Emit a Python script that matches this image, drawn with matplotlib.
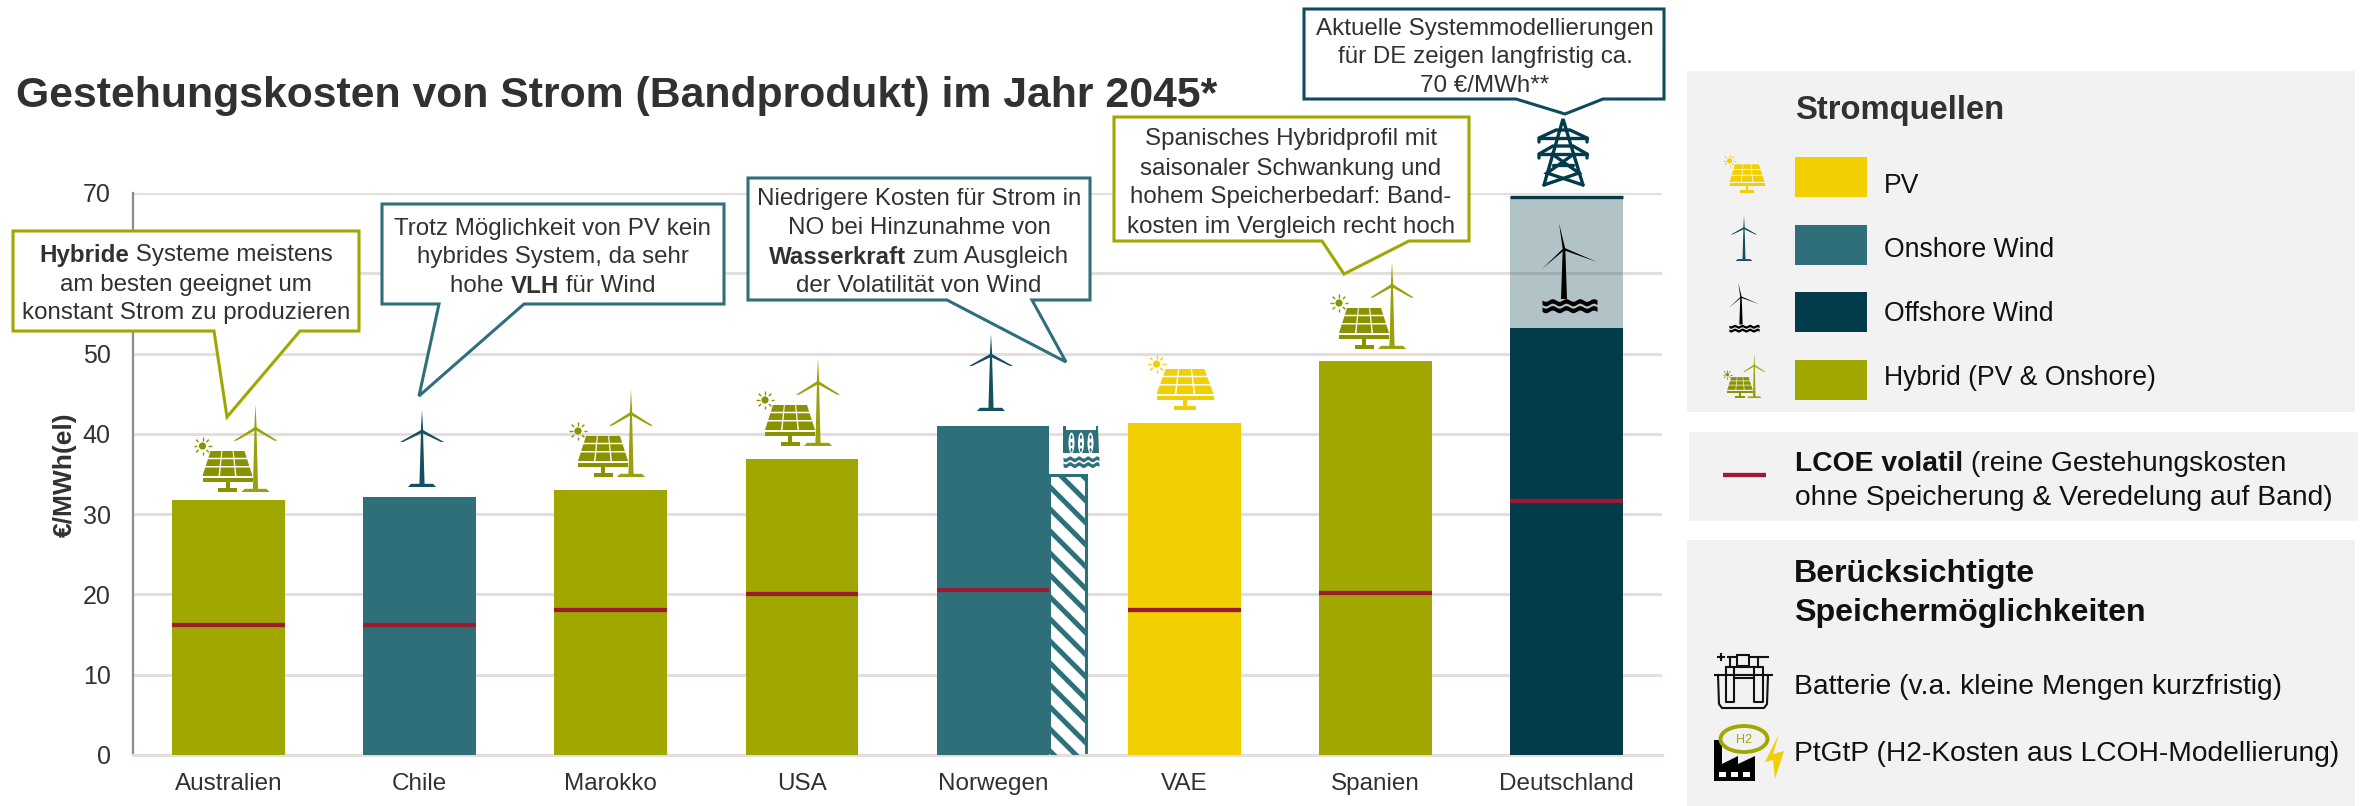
import numpy as np
import matplotlib
matplotlib.use("Agg")
import matplotlib.pyplot as plt
from matplotlib.patches import Polygon, Rectangle, Circle, Ellipse

plt.rcParams['font.family'] = ['Liberation Sans', 'DejaVu Sans']

# ---- data
countries = ["Australien", "Chile", "Marokko", "USA", "Norwegen", "VAE", "Spanien", "Deutschland"]
band_costs = [31.8, 32.1, 33.0, 36.9, 41.0, 41.3, 49.1, 53.2]
lcoe_volatile = [16.2, 16.2, 18.0, 20.0, 20.6, 18.0, 20.2, 31.6]
sources = ["Hybrid", "Onshore", "Hybrid", "Hybrid", "Onshore", "PV", "Hybrid", "Offshore"]
norway_hydro = 34.9
germany_system = 69.5
yticks = [0, 10, 20, 30, 40, 50, 60, 70]
ytick_labels = ["0", "10", "20", "30", "40", "50", "", "70"]  # 60 lies behind a callout

OLIVE, TEAL, DARK, YELLOW = '#A0A800', '#2F6F7A', '#023B4A', '#F2CF00'
RED, PANEL, TXT, GRID = '#9B1B30', '#F2F2F2', '#333030', '#E4DFDC'
source_colors = {"Hybrid": OLIVE, "Onshore": TEAL, "PV": YELLOW, "Offshore": DARK}

W, H = 2362, 806
fig = plt.figure(figsize=(W/100, H/100), dpi=100, facecolor='white')
L, R, T, B = 133, 1662, 193, 755
ax = fig.add_axes([L/W, 1-B/H, (R-L)/W, (B-T)/H])
ov = fig.add_axes([0, 0, 1, 1], zorder=5)
ov.set_xlim(0, W); ov.set_ylim(H, 0); ov.axis('off'); ov.patch.set_alpha(0)

# ---- main chart
x = np.arange(len(countries))
bw = 0.59
ax.set_axisbelow(True)
ax.bar(x, band_costs, width=bw, color=[source_colors[s] for s in sources], zorder=3)
ax.bar(x[-1], germany_system - band_costs[-1], bottom=band_costs[-1], width=bw,
       color=DARK, alpha=0.30, zorder=3)
ax.hlines(germany_system, x[-1]-bw/2, x[-1]+bw/2, color=DARK, lw=2.4, zorder=4)
hyd = ax.bar(x[4]+0.39, norway_hydro, width=0.195, facecolor='white', edgecolor=TEAL, lw=2.2, zorder=2.5)[0]
ax.hlines(lcoe_volatile, x-bw/2, x+bw/2, color=RED, lw=3.1, zorder=5)

ax.set_xlim(-0.5, 7.5); ax.set_ylim(0, 70)
ax.set_yticks(yticks); ax.set_yticklabels(ytick_labels)
ax.set_xticks(x); ax.set_xticklabels(countries)
ax.tick_params(axis='y', length=0, pad=16, labelsize=18, labelcolor=TXT)
ax.tick_params(axis='x', length=0, pad=13, labelsize=17.5, labelcolor=TXT)
ax.grid(axis='y', color=GRID, lw=2.2); ax.grid(axis='x', visible=False)
for s in ('top', 'right'):
    ax.spines[s].set_visible(False)
ax.spines['left'].set_color('#8C8C8C'); ax.spines['left'].set_linewidth(1.6)
ax.spines['bottom'].set_color(GRID); ax.spines['bottom'].set_linewidth(2.2)
ax.set_ylabel("€/MWh(el)", fontsize=19, fontweight='bold', color=TXT)
ax.yaxis.set_label_coords((77-L)/(R-L), (B-475)/(B-T))

# hatch stripes of the hydro bar, clipped to the bar
for k in range(-3, 30):
    y0 = T + 240 + k*22
    l, = ov.plot([1040, 1095], [y0, y0+55], color=TEAL, lw=3.6, solid_capstyle='butt', zorder=2)
    l.set_clip_path(hyd)

# ---- text helpers
fig.canvas.draw()
rend = fig.canvas.get_renderer()
def twidth(s, size, weight):
    a = ov.text(0, 0, "|"+s+"|", fontsize=size, fontweight=weight)
    b = ov.text(0, 0, "||", fontsize=size, fontweight=weight)
    w = a.get_window_extent(rend).width - b.get_window_extent(rend).width
    a.remove(); b.remove()
    return w
def line(xc, y, parts, size=17.4, color=TXT, ha='center'):
    """parts: list of (text, weight)"""
    ws = [twidth(p, size, wt) for p, wt in parts]
    cx = xc - sum(ws)/2 if ha == 'center' else xc
    for (p, wt), w in zip(parts, ws):
        ov.text(cx, y, p, fontsize=size, fontweight=wt, color=color,
                ha='left', va='center_baseline', zorder=20)
        cx += w
N, Bd = 'normal', 'bold'

def callout(box, base, tip, color):
    x0, y0, x1, y1 = box
    ov.add_patch(Polygon([(x0, y0), (x1, y0), (x1, y1), (base[1], y1), tip, (base[0], y1), (x0, y1)],
                         closed=True, fc='white', ec=color, lw=2.2, joinstyle='miter', zorder=10))

# ---- icons (pixel coordinates of the overlay)
def sun(cx, cy, s, c):
    ov.add_patch(Circle((cx, cy), 3.6*s, fc=c, ec='none', zorder=8))
    for a in np.arange(0, 2*np.pi, np.pi/4):
        ov.plot([cx+5.5*s*np.cos(a), cx+9*s*np.cos(a)], [cy+5.5*s*np.sin(a), cy+9*s*np.sin(a)],
                color=c, lw=1.0*max(s, .7), zorder=8, solid_capstyle='butt')

def panel(cx, by, sx, sy, c, sunc=None):
    top, bot = -41*sy, -16*sy
    tw, bw_ = 17.0*sx, 25.0*sx
    rows = [(0, .27), (.33, .6), (.66, 1)]
    cols = [(-1, -.36), (-.30, .30), (.36, 1)]
    for r0, r1 in rows:
        for c0, c1 in cols:
            h0 = tw+(bw_-tw)*r0; h1 = tw+(bw_-tw)*r1
            ov.add_patch(Polygon([(cx+c0*h0, by+top+(bot-top)*r0), (cx+c1*h0, by+top+(bot-top)*r0),
                                  (cx+c1*h1, by+top+(bot-top)*r1), (cx+c0*h1, by+top+(bot-top)*r1)],
                                 fc=c, ec='none', zorder=8))
    ov.add_patch(Rectangle((cx-bw_, by-14*sy), 2*bw_, 4.2*sy, fc=c, ec='none', zorder=8))
    ov.add_patch(Rectangle((cx-2*sx, by-10*sy), 4*sx, 7*sy, fc=c, ec='none', zorder=8))
    ov.add_patch(Rectangle((cx-9.5*sx, by-4*sy), 19*sx, 4*sy, fc=c, ec='none', zorder=8))
    sun(cx-25*sx, by-46*sy, min(sx, sy)*1.0, sunc or c)

def turbine(cx, by, s, c, tall=1.0):
    sy = s*tall
    hub = by-56*sy
    ov.add_patch(Polygon([(cx-2.6*s, by-2*s), (cx+2.6*s, by-2*s), (cx+1*s, hub), (cx-1*s, hub)], fc=c, ec='none', zorder=8))
    ov.add_patch(Polygon([(cx-14*s, by), (cx+14*s, by), (cx+11*s, by-3.2*s), (cx-11*s, by-3.2*s)], fc=c, ec='none', zorder=8))
    ov.add_patch(Polygon([(cx-1.2*s, hub), (cx, hub-21*sy), (cx+1.2*s, hub)], fc=c, ec='none', zorder=8))
    for d in (-1, 1):
        ov.add_patch(Polygon([(cx, hub-1.5*s), (cx+d*22*s, hub+11*sy), (cx+d*19*s, hub+11*sy), (cx, hub+2*s)],
                             fc=c, ec='none', zorder=8))

def hybrid(cx, by, s=1.0, c='#8B9200', tc='#9AA010'):
    panel(cx, by, s, s, c)
    turbine(cx+28*s, by, s, tc, tall=1.14)

def waves(x0, x1, y, h, c):
    xs = np.linspace(x0, x1, 60)
    for off in (0, 1):
        yy = y + off*h*1.15 + h*0.22*np.sin((xs-x0)/(x1-x0)*2*np.pi*4)
        ov.fill_between(xs, yy, yy+h*0.75, color=c, lw=0, zorder=8)

def offshore(hx, hy, s, c='black'):
    for tx, ty in ((-5, -26), (33, 13), (-22, 20)):
        ov.add_patch(Polygon([(hx-1.3*s, hy), (hx+tx*s, hy+ty*s), (hx+1.3*s, hy)] if ty < 0 else
                             [(hx, hy-1.3*s), (hx+tx*s, hy+ty*s), (hx, hy+1.3*s)], fc=c, ec='none', zorder=8))
    ov.add_patch(Polygon([(hx-1.3*s, hy), (hx+1.3*s, hy), (hx+3*s, hy+50*s), (hx-3*s, hy+50*s)], fc=c, ec='none', zorder=8))
    waves(hx-22*s, hx+33*s, hy+51*s, 6*s, c)

def pylon(c=DARK):
    kw = dict(color=c, lw=2.4, zorder=8, solid_capstyle='round', solid_joinstyle='miter')
    ov.plot([1544, 1563, 1583], [185, 119, 185], **kw)
    ov.plot([1539, 1539, 1556, 1570, 1587, 1587], [142, 138, 130, 130, 138, 142], **kw)
    ov.plot([1539, 1539, 1553, 1573, 1587, 1587], [158, 154, 146, 146, 154, 158], **kw)
    ov.plot([1540, 1587], [138, 138], **kw); ov.plot([1540, 1587], [154, 154], **kw)
    ov.plot([1553, 1573], [165, 165], **kw)
    ov.plot([1552, 1579, 1544], [154, 173, 185], **kw); ov.plot([1574, 1547, 1583], [154, 173, 185], **kw)

def hydro(c=TEAL):
    ov.add_patch(Polygon([(1063, 426), (1066, 426), (1066, 430), (1096, 430), (1096, 426), (1098, 426),
                          (1099, 453), (1063, 453)], fc=c, ec='none', zorder=8))
    for cx in (1071.5, 1081, 1090.5):
        ov.add_patch(Ellipse((cx, 443), 6, 21, fc='white', ec='none', zorder=9))
        for yy in (437, 444, 450):
            ov.add_patch(Ellipse((cx, yy), 2, 4, fc=c, ec='none', zorder=10))
    waves(1063, 1099, 457, 5, c)

# placed icons
hybrid(227.5, 492); hybrid(603, 477); hybrid(790, 446); hybrid(1364, 349)
turbine(422, 487, 1, '#14505F'); turbine(991, 411, 1, '#14505F')
panel(1185, 410, 1.14, 1.0, YELLOW)
offshore(1564, 249, 1.0); pylon(); hydro()

# ---- title
ov.text(16, 96, "Gestehungskosten von Strom (Bandprodukt) im Jahr 2045*", fontsize=30.8, fontweight='bold',
        color=TXT, ha='left', va='center')

# ---- callouts
callout((13, 231, 359, 331), (214, 300), (227, 417), OLIVE)
callout((382, 204, 724, 304), (439, 524), (419, 396), TEAL)
callout((748, 178, 1090, 300), (947, 1032), (1066, 362), TEAL)
callout((1114, 117, 1469, 241), (1322, 1409), (1344, 274), OLIVE)
callout((1304, 9, 1664, 99), (1516, 1603), (1565, 114), '#0F4B5C')

cx = 186
line(cx, 253, [("Hybride", Bd), (" Systeme meistens", N)])
line(cx, 282, [("am besten geeignet um", N)])
line(cx, 311, [("konstant Strom zu produzieren", N)])
cx = 553
line(cx, 226, [("Trotz Möglichkeit von PV kein", N)])
line(cx, 255, [("hybrides System, da sehr", N)])
line(cx, 284, [("hohe ", N), ("VLH", Bd), (" für Wind", N)])
cx = 919
line(cx, 197, [("Niedrigere Kosten für Strom in", N)])
line(cx, 226, [("NO bei Hinzunahme von", N)])
line(cx, 255, [("Wasserkraft", Bd), (" zum Ausgleich", N)])
line(cx, 283, [("der Volatilität von Wind", N)])
cx = 1291
line(cx, 137, [("Spanisches Hybridprofil mit", N)])
line(cx, 166, [("saisonaler Schwankung und", N)])
line(cx, 195, [("hohem Speicherbedarf: Band-", N)])
line(cx, 224, [("kosten im Vergleich recht hoch", N)])
cx = 1485
line(cx, 26, [("Aktuelle Systemmodellierungen", N)])
line(cx, 55, [("für DE zeigen langfristig ca.", N)])
line(cx, 83, [("70 €/MWh**", N)])

# ---- legend panels
for (x0, y0, x1, y1) in ((1687, 71, 2355, 412), (1689, 432, 2358, 521), (1687, 540, 2355, 806)):
    ov.add_patch(Rectangle((x0, y0), x1-x0, y1-y0, fc=PANEL, ec='none', zorder=1))

ov.text(1795, 110, "Stromquellen", fontsize=23.6, fontweight='bold', color=TXT, va='center', zorder=20)
legend_names = ["PV", "Onshore Wind", "Offshore Wind", "Hybrid (PV & Onshore)"]
legend_colors = [YELLOW, TEAL, DARK, OLIVE]
legend_tops = [157, 225, 292, 360]
legend_text_y = [183, 247, 311, 375]
for nm, col, yt, yy in zip(legend_names, legend_colors, legend_tops, legend_text_y):
    ov.add_patch(Rectangle((1795, yt), 72, 40, fc=col, ec='none', zorder=3))
    ov.text(1884, yy, nm, fontsize=19.2, color='#111111', va='center_baseline', zorder=20)

panel(1747, 193, 0.7, 0.7, YELLOW)
turbine(1744, 261, 0.59, '#14505F')
offshore(1741, 297, 0.55)
hybrid(1740, 398, 0.51)

ov.plot([1723, 1766], [475, 475], color=RED, lw=3.1, solid_capstyle='butt', zorder=5)
line(1795, 461, [("LCOE volatil", Bd), (" (reine Gestehungskosten", N)], size=20.3, color='#111111', ha='left')
line(1795, 495, [("ohne Speicherung & Veredelung auf Band)", N)], size=20.3, color='#111111', ha='left')

ov.text(1794, 574, "Berücksichtigte", fontsize=23.1, fontweight='bold', color='#111111', va='center', zorder=20)
ov.text(1794, 613, "Speichermöglichkeiten", fontsize=23.1, fontweight='bold', color='#111111', va='center', zorder=20)
ov.text(1794, 684, "Batterie (v.a. kleine Mengen kurzfristig)", fontsize=20.3, color='#111111', va='center_baseline', zorder=20)
ov.text(1794, 751, "PtGtP (H2-Kosten aus LCOH-Modellierung)", fontsize=20.3, color='#111111', va='center_baseline', zorder=20)

# battery icon
kw = dict(color='#111111', lw=1.5, zorder=8, solid_joinstyle='round')
ov.plot([1715, 1772], [675, 675], **kw)
ov.plot([1718, 1719, 1722, 1764, 1767, 1768], [675, 704, 708, 708, 704, 675], **kw)
ov.plot([1726, 1726, 1734, 1734, 1726], [667, 702, 702, 667, 667], **kw)
ov.plot([1754, 1754, 1763, 1763, 1754], [667, 702, 702, 667, 667], **kw)
ov.plot([1734, 1754], [678, 678], **kw)
ov.plot([1734, 1754], [667, 667], **kw)
ov.plot([1728, 1760], [657, 657], **kw)
ov.plot([1730, 1730], [657, 667], **kw); ov.plot([1758, 1758], [657, 667], **kw)
ov.add_patch(Rectangle((1737, 655), 12, 11, fc=PANEL, ec='#111111', lw=1.5, zorder=9))
ov.plot([1718, 1724], [657, 657], **kw); ov.plot([1721, 1721], [654, 660], **kw)
ov.plot([1762, 1768], [657, 657], **kw)

# PtGtP icon
ov.add_patch(Polygon([(1714, 781), (1714, 740), (1722, 740), (1722, 764), (1738, 756), (1738, 764), (1755, 756), (1755, 781)],
                     fc='black', ec='none', zorder=8))
for xx in (1719, 1731, 1743):
    ov.add_patch(Rectangle((xx, 772), 7, 5, fc='white', ec='none', zorder=9))
ov.add_patch(Ellipse((1744, 739), 47, 26, fc=PANEL, ec=OLIVE, lw=2.8, zorder=9))
ov.text(1744, 740, "H2", fontsize=9, color=OLIVE, ha='center', va='center', zorder=20)
ov.add_patch(Polygon([(1779, 734), (1765, 762), (1773, 760), (1775, 779), (1784, 751), (1773, 754)],
                     fc=YELLOW, ec='none', zorder=9))

fig.savefig("out.png", dpi=100, facecolor='white')
